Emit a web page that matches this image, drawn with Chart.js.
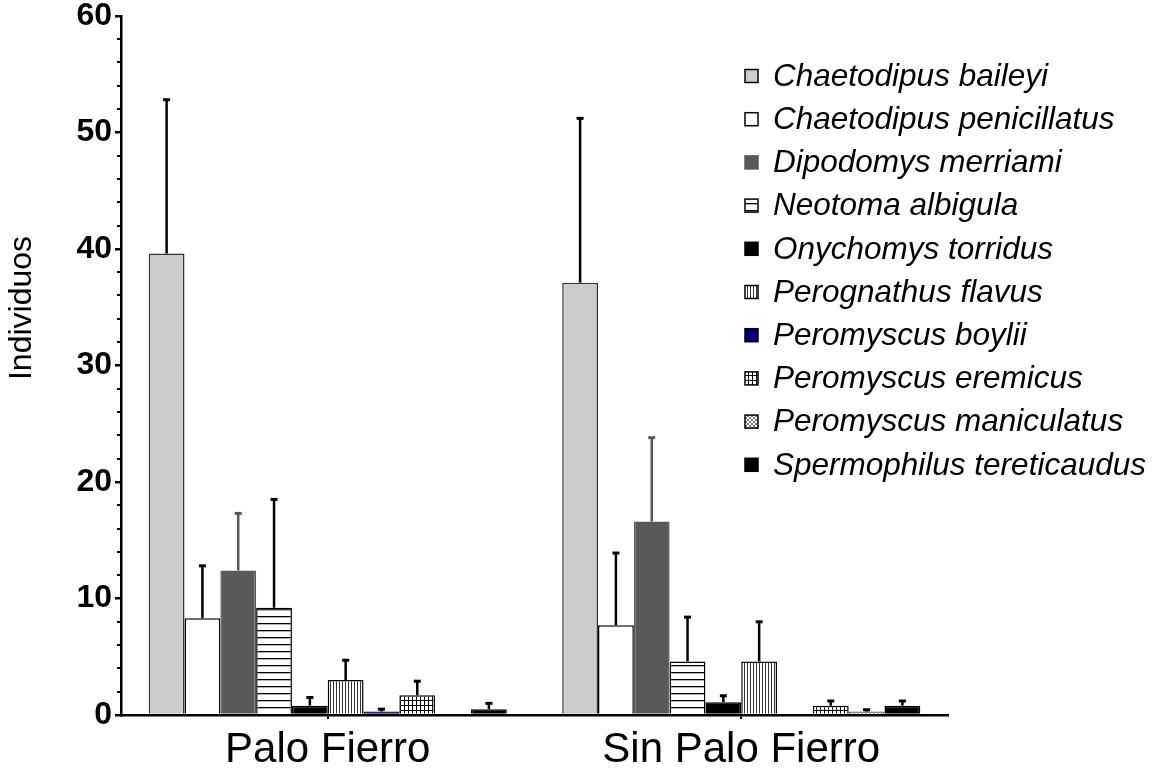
<!DOCTYPE html>
<html>
<head>
<meta charset="utf-8">
<script src="https://cdn.jsdelivr.net/npm/chart.js@4.4.1/dist/chart.umd.min.js"></script>
<style>
  html, body { margin: 0; padding: 0; background: #fff; }
  #wrap { width: 1158px; height: 774px; }
</style>
</head>
<body>
<div id="wrap"><canvas id="c" width="1158" height="774"></canvas></div>
<script>
// ---- data ----
const categories = ['Palo Fierro', 'Sin Palo Fierro'];
const species = [
  'Chaetodipus baileyi', 'Chaetodipus penicillatus', 'Dipodomys merriami',
  'Neotoma albigula', 'Onychomys torridus', 'Perognathus flavus',
  'Peromyscus boylii', 'Peromyscus eremicus', 'Peromyscus maniculatus',
  'Spermophilus tereticaudus'
];
const meanPaloFierro    = [39.6, 8.3, 12.4, 9.2, 0.8, 3.0, 0.3, 1.7, 0,   0.5];
const errPaloFierro     = [13.2, 4.5, 4.9,  9.3, 0.7, 1.7, 0.2, 1.2, 0,   0.5];
const meanSinPaloFierro = [37.1, 7.7, 16.6, 4.6, 1.1, 4.6, 0,   0.8, 0.3, 0.8];
const errSinPaloFierro  = [14.1, 6.2, 7.2,  3.8, 0.55, 3.4, 0,  0.4, 0.15, 0.4];
const yTicks = [0, 10, 20, 30, 40, 50, 60];
const yTitle = 'Individuos';

// ---- patterns ----
function makePattern(w, h, draw) {
  const c = document.createElement('canvas');
  c.width = w; c.height = h;
  const g = c.getContext('2d');
  g.fillStyle = '#fff'; g.fillRect(0, 0, w, h);
  draw(g, w, h);
  return g.createPattern(c, 'repeat');
}
const pHoriz = makePattern(8, 7, (g, w) => { g.fillStyle = '#000'; g.fillRect(0, 0, w, 1.3); });
const pVert = makePattern(3, 8, (g, w, h) => { g.fillStyle = '#333'; g.fillRect(0, 0, 1, h); });
const pGrid = makePattern(4, 5, (g, w, h) => { g.fillStyle = '#000'; g.fillRect(0, 0, 1, h); g.fillRect(0, 0, w, 1); });
const pCross = makePattern(4, 4, (g) => {
  g.strokeStyle = '#777'; g.lineWidth = 1;
  g.beginPath(); g.moveTo(0, 0); g.lineTo(4, 4); g.moveTo(4, 0); g.lineTo(0, 4); g.stroke();
});

const fills   = ['#cccccc', '#ffffff', '#595959', pHoriz, '#000000', pVert, '#000080', pGrid, pCross, '#000000'];
const borders = ['#333333', '#000000', '#595959', '#000000', '#000000', '#000000', '#000000', '#000000', '#555555', '#000000'];
const errColors = ['#000', '#000', '#595959', '#000', '#000', '#000', '#000', '#000', '#000', '#000'];

const datasets = species.map((s, i) => ({
  label: s,
  data: [meanPaloFierro[i], meanSinPaloFierro[i]],
  err: [errPaloFierro[i], errSinPaloFierro[i]],
  backgroundColor: fills[i],
  borderColor: borders[i],
  borderWidth: 1.5,
  borderSkipped: 'start'
}));

const FONT = "'Liberation Sans', Arial, sans-serif";

const errorBars = {
  id: 'errorBars',
  afterDatasetsDraw(chart) {
    const ctx = chart.ctx;
    const ys = chart.scales.y;
    chart.data.datasets.forEach((ds, i) => {
      const meta = chart.getDatasetMeta(i);
      meta.data.forEach((bar, j) => {
        const e = ds.err[j];
        if (!e) return;
        const top = ys.getPixelForValue(ds.data[j] + e);
        ctx.save();
        ctx.strokeStyle = errColors[i];
        ctx.lineWidth = 2.5;
        ctx.beginPath();
        ctx.moveTo(bar.x, bar.y);
        ctx.lineTo(bar.x, top);
        ctx.stroke();
        ctx.lineWidth = 3;
        ctx.beginPath();
        ctx.moveTo(bar.x - 3.5, top);
        ctx.lineTo(bar.x + 3.5, top);
        ctx.stroke();
        ctx.restore();
      });
    });
  }
};

const extras = {
  id: 'extras',
  afterDraw(chart) {
    const ctx = chart.ctx;
    const ys = chart.scales.y;
    const x = chart.chartArea.left;
    ctx.save();
    // minor ticks
    ctx.strokeStyle = '#000';
    ctx.lineWidth = 2;
    for (let v = 2; v < 60; v += 2) {
      if (v % 10 === 0) continue;
      const y = Math.round(ys.getPixelForValue(v));
      ctx.beginPath();
      ctx.moveTo(x - 4, y);
      ctx.lineTo(x, y);
      ctx.stroke();
    }
    // y title
    ctx.translate(22, 308);
    ctx.rotate(-Math.PI / 2);
    ctx.font = '32px ' + FONT;
    ctx.fillStyle = '#000';
    ctx.textAlign = 'center';
    ctx.textBaseline = 'middle';
    ctx.fillText(yTitle, 0, 0);
    ctx.restore();
  }
};

const customLegend = {
  id: 'customLegend',
  afterDraw(chart) {
    const ctx = chart.ctx;
    ctx.save();
    ctx.font = 'italic 31.5px ' + FONT;
    ctx.textBaseline = 'middle';
    chart.data.datasets.forEach((ds, i) => {
      const y = 76 + i * 43.2;
      ctx.fillStyle = ds.backgroundColor;
      ctx.fillRect(745, y - 6.5, 13, 13);
      ctx.strokeStyle = ds.borderColor === '#595959' ? '#595959' : '#000';
      ctx.lineWidth = 1.5;
      ctx.strokeRect(745, y - 6.5, 13, 13);
      ctx.fillStyle = '#000';
      ctx.fillText(ds.label, 773, y + 1);
    });
    ctx.restore();
  }
};

new Chart(document.getElementById('c'), {
  type: 'bar',
  data: { labels: categories, datasets },
  options: {
    responsive: false,
    animation: false,
    layout: { padding: { top: 0, right: 210, left: 0, bottom: 0 } },
    datasets: { bar: { categoryPercentage: 0.866, barPercentage: 1 } },
    plugins: { legend: { display: false }, tooltip: { enabled: false } },
    scales: {
      x: {
        afterFit(scale) { scale.height = 59; },
        grid: { display: true, drawOnChartArea: false, offset: false, tickLength: 4, color: '#000', lineWidth: 2 },
        border: { color: '#000', width: 2.5 },
        ticks: { color: '#000', font: { family: FONT, size: 42, lineHeight: 1.143 }, padding: 7 }
      },
      y: {
        min: 0, max: 60,
        afterFit(scale) { scale.width = 121; },
        afterBuildTicks(scale) { scale.ticks = yTicks.map(v => ({ value: v })); },
        grid: { drawOnChartArea: false, tickLength: 6, color: '#000', lineWidth: 2.5 },
        border: { color: '#000', width: 2.5 },
        ticks: { color: '#000', font: { family: FONT, size: 32, weight: 'bold', lineHeight: 0.8 }, padding: 3 },
        title: { display: false }
      }
    }
  },
  plugins: [errorBars, extras, customLegend]
});
</script>
</body>
</html>
